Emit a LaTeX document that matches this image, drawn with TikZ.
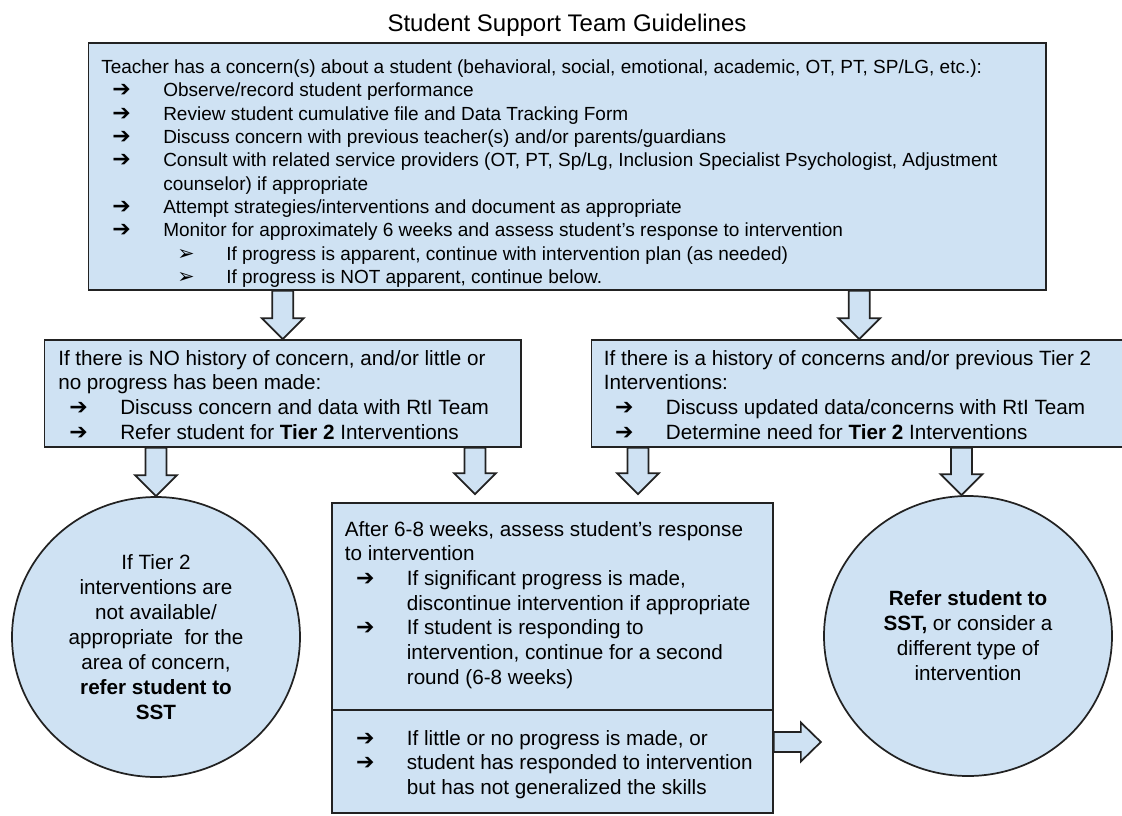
\documentclass[tikz,border=0pt]{standalone}
\usepackage{fontspec}
\setmainfont{Liberation Sans}
\newfontfamily\dejavu{DejaVu Sans}
\usetikzlibrary{calc,fit,shapes.geometric}

\definecolor{boxblue}{HTML}{CFE2F3}
\definecolor{edge}{HTML}{222222}

\newcommand\topfont{\fontsize{14.25pt}{17.5pt}\selectfont}
\newcommand\boxfont{\fontsize{15.5pt}{18.5pt}\selectfont}
\newcommand\arbul{\makebox[46.5pt][l]{\hspace{8.4pt}{\dejavu\bfseries\fontsize{16.5pt}{16.5pt}\selectfont ➔}}}
\newcommand\subbul{\makebox[93.75pt][l]{\hspace{57pt}{\dejavu\fontsize{15.5pt}{15.5pt}\selectfont ➢}}}
\newcommand\contind{\hspace*{46.5pt}}

% hollow block arrows, start on one node, tip on the next
\newcommand\blockdown[2]{%
  \filldraw[blockarrow] let \p1=#1, \p2=#2 in
    (\x1-7.9pt,\y1) -- (\x1-7.9pt,\y2+15.75pt) -- (\x1-15.75pt,\y2+15.75pt)
    -- (\x1,\y2) -- (\x1+15.75pt,\y2+15.75pt) -- (\x1+7.9pt,\y2+15.75pt)
    -- (\x1+7.9pt,\y1) -- cycle;}
\newcommand\blockright[2]{%
  \filldraw[blockarrow] let \p1=#1, \p2=#2 in
    (\x1,\y1+7.5pt) -- (\x2-15pt,\y1+7.5pt) -- (\x2-15pt,\y1+14.6pt)
    -- (\x2,\y1) -- (\x2-15pt,\y1-14.6pt) -- (\x2-15pt,\y1-7.5pt)
    -- (\x1,\y1-7.5pt) -- cycle;}

\tikzset{
  box/.style={draw=edge, fill=boxblue, line width=1.3pt, inner sep=0pt},
  bubble/.style={ellipse, draw=edge, fill=boxblue, line width=1.3pt, inner sep=0pt,
    minimum width=216pt, minimum height=210pt, align=center,
    font=\fontsize{15.5pt}{18.75pt}\selectfont},
  blockarrow/.style={draw=edge, fill=boxblue, line width=1.3pt, line join=miter},
  txt/.style={anchor=base west, inner sep=0pt},
}

\begin{document}
\begin{tikzpicture}[x=0.75pt,y=0.75pt]
    \useasboundingbox (0,0) rectangle (1122,-815);
    \clip (0,0) rectangle (1122,-815);

    \node[font=\fontsize{18pt}{22pt}\selectfont, anchor=base] (title) at (567,-31) {Student Support Team Guidelines};

    \node[box, fit={(88.6,-43) (1045.7,-290)}] (top) {};
    \node[box, fit={(44.6,-340) (521,-447)}] (left) {};
    \node[box, fit={(591.5,-340) (1127,-447)}] (right) {};
    \node[box, fit={(332,-503) (773,-813)}] (mid) {};
    \coordinate (split) at (0,-710);
    \draw[edge, line width=1.3pt] (mid.west |- split) -- (mid.east |- split);

    \node[bubble] (lc) at (156,-637) {If Tier 2\\ interventions are\\ not available/\\ appropriate~ for the\\ area of concern,\\ \textbf{refer student to}\\ \textbf{SST}};
    \node[bubble] (rc) at (968,-636) {\textbf{Refer student to}\\ \textbf{SST,} or consider a\\ different type of\\ intervention};

    % text lines
    \foreach[count=\i] \t in {%
        {Teacher has a concern(s) about a student (behavioral, social, emotional, academic, OT, PT, SP/LG, etc.):},
        {\arbul Observe/record student performance},
        {\arbul Review student cumulative file and Data Tracking Form},
        {\arbul Discuss concern with previous teacher(s) and/or parents/guardians},
        {\arbul Consult with related service providers (OT, PT, Sp/Lg, Inclusion Specialist Psychologist, Adjustment},
        {\contind counselor) if appropriate},
        {\arbul Attempt strategies/interventions and document as appropriate},
        {\arbul Monitor for approximately 6 weeks and assess student’s response to intervention},
        {\subbul If progress is apparent, continue with intervention plan (as needed)},
        {\subbul If progress is NOT apparent, continue below.}} {
        \node[txt, font=\topfont] (top\i) at (101,{-73.5-23.33*(\i-1)}) {\t};
    }
    \foreach[count=\i] \t in {%
        {If there is NO history of concern, and/or little or},
        {no progress has been made:},
        {\arbul Discuss concern and data with RtI Team},
        {\arbul Refer student for \textbf{Tier 2} Interventions}} {
        \node[txt, font=\boxfont] (left\i) at (58,{-365-24.67*(\i-1)}) {\t};
    }
    \foreach[count=\i] \t in {%
        {If there is a history of concerns and/or previous Tier 2},
        {Interventions:},
        {\arbul Discuss updated data/concerns with RtI Team},
        {\arbul Determine need for \textbf{Tier 2} Interventions}} {
        \node[txt, font=\boxfont] (right\i) at (603.6,{-365-24.67*(\i-1)}) {\t};
    }
    \foreach[count=\i] \t in {%
        {After 6-8 weeks, assess student’s response},
        {to intervention},
        {\arbul If significant progress is made,},
        {\contind discontinue intervention if appropriate},
        {\arbul If student is responding to},
        {\contind intervention, continue for a second},
        {\contind round (6-8 weeks)}} {
        \node[txt, font=\boxfont] (mid\i) at (344.6,{-536-24.67*(\i-1)}) {\t};
    }
    \foreach[count=\i] \t in {%
        {\arbul If little or no progress is made, or},
        {\arbul student has responded to intervention},
        {\contind but has not generalized the skills}} {
        \node[txt, font=\boxfont] (low\i) at (344.6,{-745-24.67*(\i-1)}) {\t};
    }

    % block arrows
    \coordinate (a4) at (475,0);
    \coordinate (a5) at (638,0);
    \coordinate (a6) at (961.5,0);
    \coordinate (a7) at (0,-742);
    \blockdown{(top.south -| left.north)}{(left.north)}
    \blockdown{(top.south -| right.north)}{(right.north)}
    \blockdown{(left.south -| lc.north)}{(lc.north)}
    \blockdown{(left.south -| a4)}{($(mid.north -| a4)+(0,8)$)}
    \blockdown{(right.south -| a5)}{($(mid.north -| a5)+(0,8)$)}
    \blockdown{(right.south -| a6)}{(rc.north -| a6)}
    \blockright{(mid.east |- a7)}{($(mid.east |- a7)+(47,0)$)}
\end{tikzpicture}
\end{document}
